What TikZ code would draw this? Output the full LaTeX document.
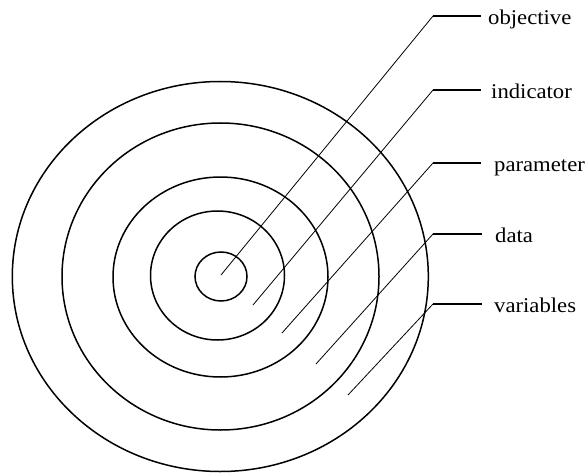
\documentclass[tikz,border=0pt]{standalone}
\usepackage{fontspec}
\setmainfont{Liberation Serif}
\usetikzlibrary{shapes.geometric}
\newcommand{\widetext}[1]{\scalebox{1.08}[1]{#1}}
\begin{document}
\begin{tikzpicture}[x=1pt,y=-1pt,
  ring/.style={draw=black,line width=1.5pt,ellipse,inner sep=0pt},
  lead/.style={draw=black,line width=0.8pt},
  tick/.style={draw=black,line width=1.6pt},
  lbl/.style={anchor=base west,inner sep=0pt,font=\fontsize{21}{25}\selectfont}]
\useasboundingbox (0,0) rectangle (585,473);
\node[ring,minimum width=416pt,minimum height=390pt] (r5) at (220.3,276.5) {};
\node[ring,minimum width=317pt,minimum height=307pt] (r4) at (220.5,276.5) {};
\node[ring,minimum width=215pt,minimum height=200pt] (r3) at (220.5,277) {};
\node[ring,minimum width=134pt,minimum height=129pt] (r2) at (217.5,275.5) {};
\node[ring,minimum width=52pt,minimum height=49pt] (r1) at (221,276.5) {};
% bends and ends
\coordinate (b1) at (433,16);   \coordinate (e1) at (221,275);
\coordinate (b2) at (433,90);   \coordinate (e2) at (253,305);
\coordinate (b3) at (433,163);  \coordinate (e3) at (282,333);
\coordinate (b4) at (433,234);  \coordinate (e4) at (316,364);
\coordinate (b5) at (433,304);  \coordinate (e5) at (348,395);
\coordinate (h1) at (481,16);
\coordinate (h2) at (481,90);
\coordinate (h3) at (481,163);
\coordinate (h4) at (482,234);
\coordinate (h5) at (482,304);
\node[lbl] (t1) at (488,24.5) {\widetext{objective}};
\node[lbl] (t2) at (491,98.5) {\widetext{indicator}};
\node[lbl] (t3) at (494,171.5) {\widetext{parameter}};
\node[lbl] (t4) at (495,242.5) {\widetext{data}};
\node[lbl] (t5) at (494,312.5) {\widetext{variables}};
\draw[lead] (e1) -- (b1);
\draw[lead] (e2) -- (b2);
\draw[lead] (e3) -- (b3);
\draw[lead] (e4) -- (b4);
\draw[lead] (e5) -- (b5);
\draw[tick] (b1) -- (h1);
\draw[tick] (b2) -- (h2);
\draw[tick] (b3) -- (h3);
\draw[tick] (b4) -- (h4);
\draw[tick] (b5) -- (h5);
\end{tikzpicture}
\end{document}
